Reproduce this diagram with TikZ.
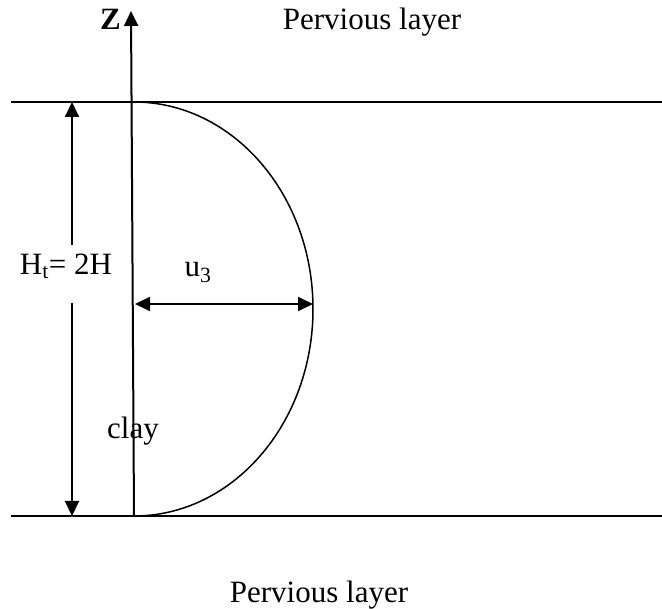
\documentclass[tikz,border=0pt]{standalone}
\usepackage{fontspec}
\setmainfont{Liberation Serif}
\usetikzlibrary{arrows.meta}
\begin{document}
\begin{tikzpicture}[x=1pt,y=-1pt,
  lbl/.style={anchor=base,inner sep=0pt,font=\fontsize{31}{36}\selectfont},
  layerline/.style={line width=2pt},
  dimarrow/.style={line width=2pt,-{Triangle[length=15pt,width=14pt]}},
  dimboth/.style={line width=2pt,{Triangle[length=15pt,width=14pt]}-{Triangle[length=15pt,width=14pt]}},
  profile/.style={line width=1.5pt}]
\useasboundingbox (0,0) rectangle (662,609);
% horizontal boundaries
\coordinate (tl) at (11,102);
\coordinate (tr) at (662,102);
\coordinate (bl) at (11,516);
\coordinate (br) at (662,516);
\draw[layerline] (tl) -- (tr);
\draw[layerline] (bl) -- (br);
% z axis
\coordinate (zb) at (134,516);
\coordinate (zt) at (131,11);
\draw[dimarrow] (zb) -- (zt);
% profile (semi-ellipse)
\coordinate (ptop) at (134,102);
\draw[profile] (ptop) arc[start angle=-90,end angle=90,x radius=179,y radius=207];
% u3 arrow
\coordinate (ua) at (135,304);
\coordinate (ub) at (313,304);
\draw[dimboth] (ua) -- (ub);
% Ht arrow
\coordinate (ht1) at (72,102);
\coordinate (ht2) at (72,245);
\coordinate (hb1) at (72,303);
\coordinate (hb2) at (72,516);
\draw[dimarrow] (ht2) -- (ht1);
\draw[dimarrow] (hb1) -- (hb2);
% labels
\node[lbl] (ptoptext) at (372,30) {Pervious layer};
\node[lbl] (pbot) at (319,603) {Pervious layer};
\node[lbl] (z) at (110.5,30) {\textbf{Z}};
\node[lbl] (ht) at (66,275) {H\textsubscript{t}= 2H};
\node[lbl] (u3) at (198,277) {u\textsubscript{3}};
\node[lbl] (clay) at (133,439) {clay};
\end{tikzpicture}
\end{document}
